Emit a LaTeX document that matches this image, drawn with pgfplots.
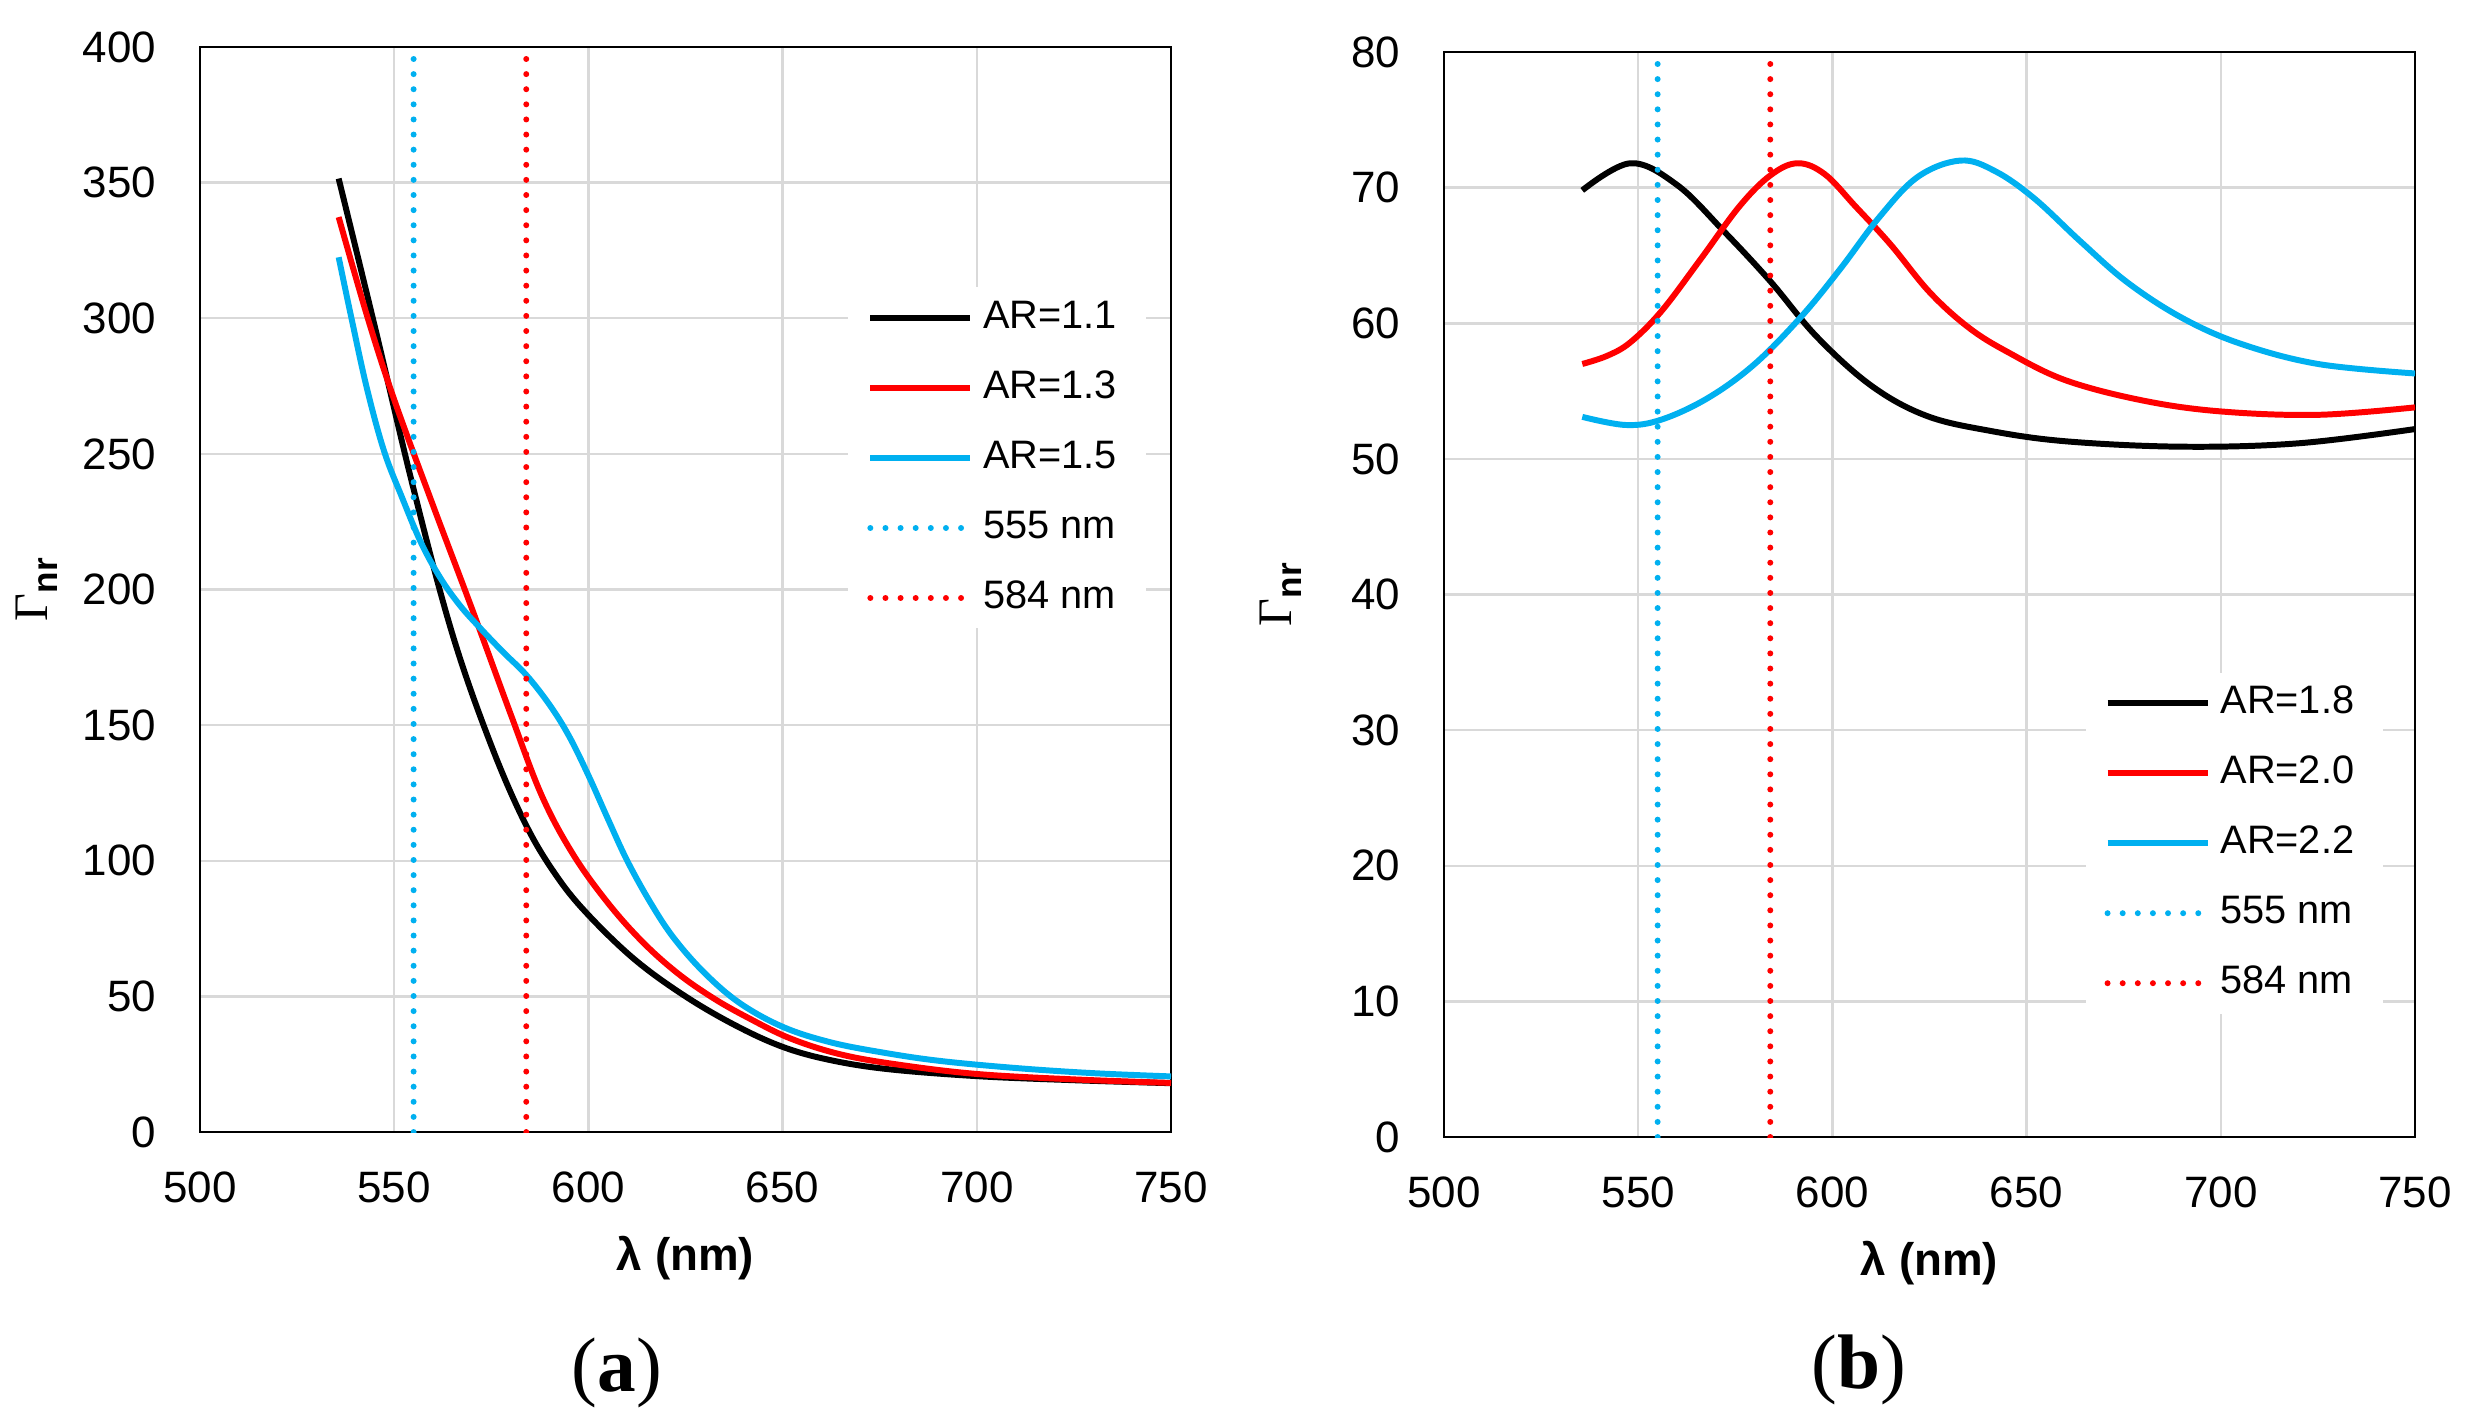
\documentclass[border=0pt]{standalone}
\usepackage{fontspec}
\setmainfont{Liberation Sans}
\newfontfamily\seriffont{Liberation Serif}
\usepackage{pgfplots}
\pgfplotsset{compat=1.18}
\definecolor{myred}{HTML}{FF0000}
\definecolor{mycyan}{HTML}{00B0F0}
\definecolor{gridc}{HTML}{D9D9D9}

\pgfplotsset{
 mystyle/.style={
  scale only axis, width=97.1mm, height=108.5mm,
  xmin=500, xmax=750, xtick={500,550,...,750},
  grid=major, major grid style={draw=gridc, line width=0.7pt},
  major tick length=0pt,
  axis line style={line width=0.8pt},
  tick label style={font=\fontsize{12.5}{14}\selectfont},
  /pgf/number format/assume math mode=true,
  /pgf/number format/set thousands separator={},
  xticklabel style={anchor=center, yshift=-5.5mm},
  yticklabel style={anchor=east, inner sep=0pt, xshift=-4.3mm},
  xlabel={\bfseries λ (nm)},
  xlabel style={font=\fontsize{13}{15}\selectfont, at={(axis description cs:0.5,-0.1161)}, anchor=center},
  ylabel={{\seriffont Γ}\raisebox{-1mm}{\fontsize{10}{12}\selectfont\bfseries nr}},
  ylabel style={font=\fontsize{13.7}{15}\selectfont, at={(axis description cs:-0.168,0.5)}, anchor=center},
  legend style={draw=none, fill=white, font=\fontsize{11.3}{13}\selectfont, anchor=north west,
     inner xsep=1.9mm, inner ysep=1.2mm, row sep=3.3mm,
     nodes={inner xsep=1mm, inner ysep=0pt, text height=2.9mm, text depth=0.8mm}},
  legend cell align=left,
  legend image code/.code={\draw[#1] (0mm,0mm) -- (10mm,0mm);},
 },
 curve/.style={line width=1.7pt, line join=round, smooth, tension=0.6},
 dotline/.style={line width=1.7pt, line cap=round, dash pattern=on 0pt off 4.3pt},
}

\begin{document}
\begin{tikzpicture}
\useasboundingbox (-20mm,-28.7mm) rectangle (227.5mm,113.2mm);
% ---------------- (a)
\begin{axis}[mystyle, at={(0,0)}, anchor=south west,
  ymin=0, ymax=400, ytick={0,50,...,400},
  legend style={at={(axis description cs:0.667,0.779)}}]
\addplot[black, curve] coordinates {
(535.7,351.5) (545,297) (555,237) (565,183.5) (575,142.5) (584,113) (592,94)
(600,80) (612,63.5) (625,50) (638,39.2) (650,31.4) (662,26.6) (677,23.2)
(700,20.6) (725,19.1) (750,18)};
\addlegendentry{AR=1.1}
\addplot[myred, curve] coordinates {
(535.7,337.3) (543.2,300) (550,270) (560,231) (570,193) (580,154) (588,124)
(596,102.5) (605,84.5) (614,70) (623,58.5) (632,49.5) (641,42.2) (652,34.5)
(665,28.6) (680,24.8) (700,21.4) (725,19.4) (750,18.1)};
\addlegendentry{AR=1.3}
\addplot[mycyan, curve] coordinates {
(535.7,322.5) (539,300) (543,274) (547.4,251) (552,234) (557,217) (562,204)
(567,194) (572,186) (578,177) (584,168.5) (590,157.5) (595,146) (600,131.5)
(605,115.5) (610,100) (616,84.5) (622,71.5) (630,58.5) (639,47.5) (650,38.8)
(662,33.2) (675,29.5) (690,26.3) (710,23.6) (730,21.7) (750,20.5)};
\addlegendentry{AR=1.5}
\addplot[mycyan, dotline] coordinates {(555,0) (555,400)};
\addlegendentry{555 nm}
\addplot[myred, dotline] coordinates {(584,0) (584,400)};
\addlegendentry{584 nm}
\end{axis}
% ---------------- (b)
\begin{axis}[mystyle, at={(124.4mm,-0.5mm)}, anchor=south west,
  ymin=0, ymax=80, ytick={0,10,...,80},
  legend style={at={(axis description cs:0.660,0.4286)}}]
\addplot[black, curve] coordinates {
(535.6,69.8) (548,71.8) (560,70.2) (572,66.8) (584,63.1) (596,59.0) (610,55.4)
(624,53.2) (640,52.1) (660,51.3) (690,50.9) (720,51.15) (750,52.2)};
\addlegendentry{AR=1.8}
\addplot[myred, curve] coordinates {
(535.6,57.0) (542,57.6) (548,58.6) (556,60.9) (566,64.7) (576,68.6) (584,70.9) (591,71.8)
(598,71.0) (606,68.6) (615,65.8) (625,62.3) (635,59.7) (645,57.9) (660,55.8)
(680,54.3) (700,53.5) (725,53.25) (750,53.8)};
\addlegendentry{AR=2.0}
\addplot[mycyan, curve] coordinates {
(535.6,53.1) (546.8,52.5) (556,52.9) (568,54.5) (580,57.0) (592,60.5) (602,64.0)
(612,67.8) (622,70.8) (633,72.0) (642,71.2) (652,69.2) (664,66.0) (676,63.0)
(690,60.4) (705,58.5) (725,57.0) (750,56.3)};
\addlegendentry{AR=2.2}
\addplot[mycyan, dotline] coordinates {(555,0) (555,80)};
\addlegendentry{555 nm}
\addplot[myred, dotline] coordinates {(584,0) (584,80)};
\addlegendentry{584 nm}
\end{axis}
\node[font=\seriffont\fontsize{22}{26}\selectfont] at (41.7mm,-24.1mm) {(\textbf{a})};
\node[font=\seriffont\fontsize{22}{26}\selectfont] at (165.9mm,-23.8mm) {(\textbf{b})};
\end{tikzpicture}
\end{document}
